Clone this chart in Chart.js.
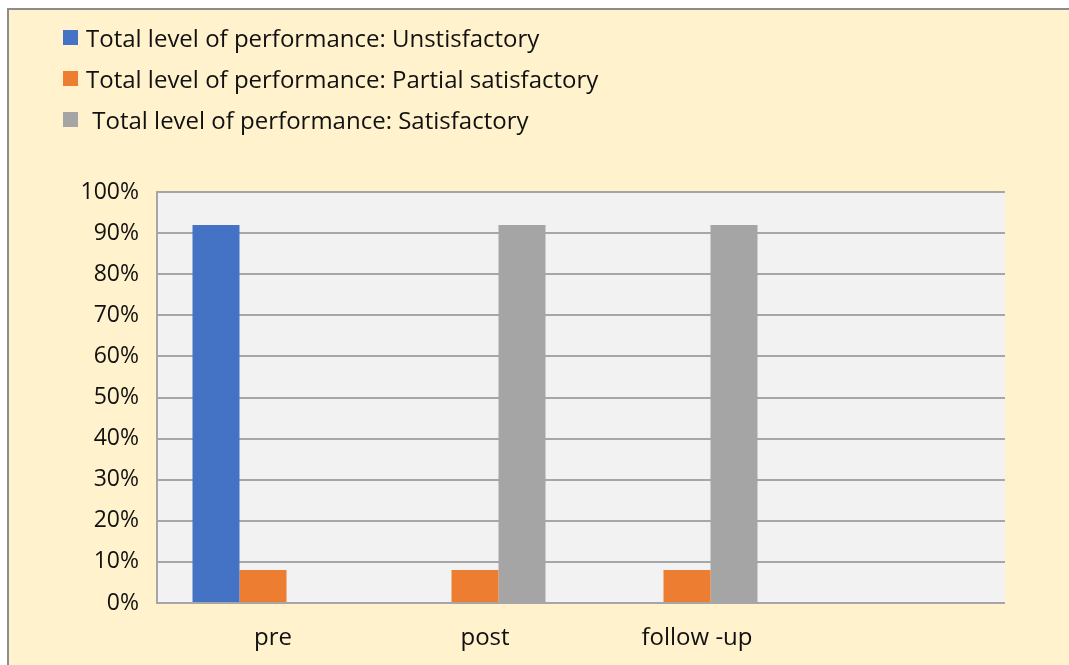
<!DOCTYPE html>
<html lang="en">
<head>
  <meta charset="utf-8">
  <title>Total level of performance</title>
  <script src="https://cdn.jsdelivr.net/npm/chart.js@4.4.1/dist/chart.umd.min.js"></script>
  <style>
    html, body { margin: 0; padding: 0; background: #fff; }
    #frame {
      position: absolute; left: 7px; top: 8px; width: 1062px; height: 657px;
      background: #FFF2CC; border-top: 2px solid #8c8c8c; border-left: 2px solid #8c8c8c;
    }
    #wrap { position: absolute; left: 0; top: 0; width: 1069px; height: 665px; }
    #legend { position: absolute; left: 63px; top: 17px; font-family: "Open Sans", sans-serif; font-size: 24px; color: #111; }
    #legend div { height: 41px; display: flex; align-items: center; }
    #legend span.box { display: inline-block; width: 15px; height: 15px; margin-right: 8px; }
  </style>
</head>
<body>
<div id="frame"></div>
<div id="wrap">
  <canvas id="myChart" width="1069" height="665"></canvas>
</div>
<div id="legend"></div>

<script>
// data
var categories = ['pre', 'post', 'follow -up', ''];
var unsatisfactory = [92, 0, 0, null];
var partial = [8, 8, 8, null];
var satisfactory = [0, 92, 92, null];
var yTicks = [0, 10, 20, 30, 40, 50, 60, 70, 80, 90, 100];

var seriesNames = [
  'Total level of performance: Unstisfactory',
  'Total level of performance: Partial satisfactory',
  ' Total level of performance: Satisfactory'
];
var colors = ['#4472C4', '#ED7D31', '#A5A5A5'];

// grey plot background
var plotBg = {
  id: 'plotBg',
  beforeDraw: function(chart) {
    var a = chart.chartArea, c = chart.ctx;
    c.save();
    c.fillStyle = '#F2F2F2';
    c.fillRect(a.left, a.top, a.right - a.left, a.bottom - a.top);
    c.restore();
  }
};

var ctx = document.getElementById('myChart').getContext('2d');
var chart = new Chart(ctx, {
  type: 'bar',
  data: {
    labels: categories,
    datasets: [
      { label: seriesNames[0], data: unsatisfactory, backgroundColor: colors[0] },
      { label: seriesNames[1], data: partial, backgroundColor: colors[1] },
      { label: seriesNames[2], data: satisfactory, backgroundColor: colors[2] }
    ]
  },
  options: {
    responsive: false,
    animation: false,
    layout: { padding: { top: 192, right: 64, left: 0, bottom: 0 } },
    datasets: { bar: { barPercentage: 1, categoryPercentage: 0.665 } },
    plugins: { legend: { display: false }, tooltip: { enabled: false } },
    scales: {
      x: {
        grid: { display: false },
        border: { display: false },
        ticks: { color: '#111', font: { family: 'Open Sans', size: 24 }, padding: 13, labelOffset: 10 },
        afterFit: function(s) { s.height = 62; }
      },
      y: {
        min: 0, max: 100,
        afterBuildTicks: function(s) { s.ticks = yTicks.map(function(v) { return { value: v }; }); },
        grid: { color: '#A6A6A6', lineWidth: 2, drawTicks: false },
        border: { display: true, color: '#A6A6A6', width: 2 },
        ticks: {
          color: '#111', font: { family: 'Open Sans', size: 23 }, padding: 18,
          callback: function(v) { return v + '%'; }
        },
        afterFit: function(s) { s.width = 157; }
      }
    }
  },
  plugins: [plotBg]
});

// legend built from the datasets
var lg = document.getElementById('legend');
chart.data.datasets.forEach(function(ds) {
  var row = document.createElement('div');
  var box = document.createElement('span');
  box.className = 'box';
  box.style.background = ds.backgroundColor;
  row.appendChild(box);
  var t = document.createElement('span');
  t.style.whiteSpace = 'pre';
  t.textContent = ds.label;
  row.appendChild(t);
  lg.appendChild(row);
});
</script>
</body>
</html>
